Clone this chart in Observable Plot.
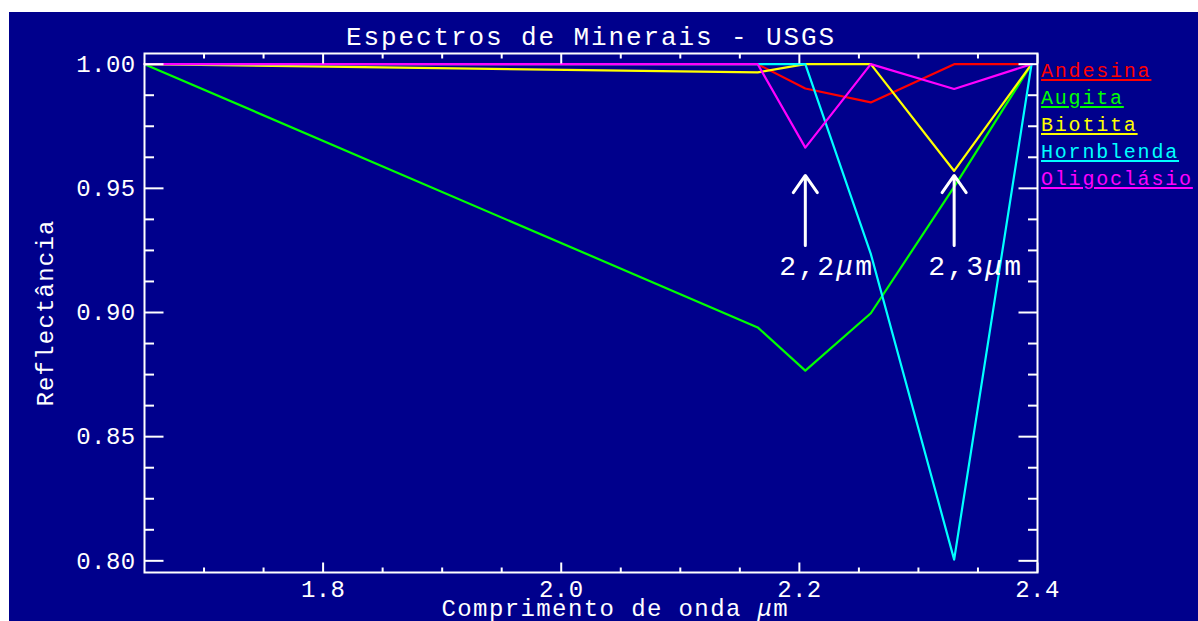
<!DOCTYPE html>
<html>
<head>
<meta charset="utf-8">
<script src="https://cdn.jsdelivr.net/npm/d3@7"></script>
<script src="https://cdn.jsdelivr.net/npm/@observablehq/plot@0.6"></script>
<style>
  html, body { margin: 0; padding: 0; background: #ffffff; }
  #wrap { position: relative; width: 1198px; height: 621px; overflow: hidden; background: #ffffff; }
  #navy { position: absolute; left: 9px; top: 12px; right: 0; bottom: 0; background: #00008c; }
  #chart { position: absolute; left: 0; top: 0; }
  #legend { position: absolute; left: 1041px; top: 0; font-family: "Liberation Mono", monospace; }
  #legend div { position: absolute; left: 0; white-space: nowrap; font-size: 20px; line-height: 1; letter-spacing: 1.8px;
                text-decoration: underline; text-underline-offset: 2px; text-decoration-thickness: 2px; }
</style>
</head>
<body>
<div id="wrap">
  <div id="navy"></div>
  <div id="chart"></div>
  <div id="legend"></div>
</div>
<script>
// ---- data ----
const chartTitle = "Espectros de Minerais - USGS";
const xLabel = "Comprimento de onda μm";
const yLabel = "Reflectância";
const wavelengths = [1.65, 2.165, 2.205, 2.26, 2.33, 2.395];
const seriesNames = ["Andesina", "Augita", "Biotita", "Hornblenda", "Oligoclásio"];
const seriesColors = ["#ff0000", "#00ff00", "#ffff00", "#00ffff", "#ff00ff"];
const andesina    = [1.000, 1.000, 0.9902, 0.9846, 1.000, 1.000];
const augita      = [1.000, 0.8940, 0.8766, 0.8997, 0.9506, 1.000];
const biotita     = [1.000, 0.9967, 1.000, 1.000, 0.9570, 1.000];
const hornblenda  = [1.000, 1.000, 1.000, 0.9236, 0.8005, 1.000];
const oligoclasio = [1.000, 1.000, 0.9664, 1.000, 0.9900, 1.000];
const seriesValues = [andesina, augita, biotita, hornblenda, oligoclasio];

const xDomain = [1.65, 2.4];
const yDomain = [0.7953, 1.0043];
const xMajorTicks = [1.8, 2.0, 2.2, 2.4];
const xMinorTicks = [1.70, 1.75, 1.85, 1.90, 1.95, 2.05, 2.10, 2.15, 2.25, 2.30, 2.35];
const yMajorTicks = [0.80, 0.85, 0.90, 0.95, 1.00];
const yMinorTicks = [0.8125, 0.825, 0.8375, 0.8625, 0.875, 0.8875, 0.9125, 0.925, 0.9375, 0.9625, 0.975, 0.9875];

const annotX = [2.205, 2.33];
const annotLabels = ["2,2μm", "2,3μm"];
const arrowTip = 0.9552;
const arrowBase = 0.927;
const annotLabelY = 0.9153;

// ---- table ----
const table = seriesNames.flatMap((name, s) =>
  wavelengths.map((w, i) => ({series: name, wavelength: w, reflectance: seriesValues[s][i]})));

const tickSymbol = (dx, dy) => ({draw(ctx) { ctx.moveTo(0, 0); ctx.lineTo(dx, dy); }});
const tickStyle = {stroke: "white", strokeWidth: 2, fill: "none", r: 3};

const plot = Plot.plot({
  width: 1198,
  height: 621,
  marginLeft: 144,
  marginRight: 161,
  marginTop: 53,
  marginBottom: 49,
  x: {domain: xDomain},
  y: {domain: yDomain},
  color: {domain: seriesNames, range: seriesColors},
  style: {background: "transparent", color: "white", fontFamily: "'Liberation Mono', monospace", fontSize: "24px", letterSpacing: "0.4px"},
  marks: [
    Plot.line(table, {x: "wavelength", y: "reflectance", z: "series", stroke: "series", strokeWidth: 2.2}),
    Plot.frame({stroke: "white", strokeWidth: 2}),
    // ticks (inward, all four sides)
    Plot.dot(xMajorTicks, {x: d => d, y: () => yDomain[0], symbol: tickSymbol(0, -10), ...tickStyle}),
    Plot.dot(xMajorTicks, {x: d => d, y: () => yDomain[1], symbol: tickSymbol(0, 10), ...tickStyle}),
    Plot.dot(xMinorTicks, {x: d => d, y: () => yDomain[0], symbol: tickSymbol(0, -5), ...tickStyle}),
    Plot.dot(xMinorTicks, {x: d => d, y: () => yDomain[1], symbol: tickSymbol(0, 5), ...tickStyle}),
    Plot.dot(yMajorTicks, {x: () => xDomain[0], y: d => d, symbol: tickSymbol(19, 0), ...tickStyle}),
    Plot.dot(yMajorTicks, {x: () => xDomain[1], y: d => d, symbol: tickSymbol(-19, 0), ...tickStyle}),
    Plot.dot(yMinorTicks, {x: () => xDomain[0], y: d => d, symbol: tickSymbol(9.5, 0), ...tickStyle}),
    Plot.dot(yMinorTicks, {x: () => xDomain[1], y: d => d, symbol: tickSymbol(-9.5, 0), ...tickStyle}),
    Plot.axisX({ticks: xMajorTicks, tickSize: 0, tickPadding: 7, tickFormat: d => d.toFixed(1), label: null, fontSize: 24}),
    Plot.axisY({ticks: yMajorTicks, tickSize: 0, tickPadding: 9, tickFormat: d => d.toFixed(2), label: null, fontSize: 24}),
    // annotations
    Plot.arrow(annotX, {x1: d => d, x2: d => d, y1: () => arrowBase, y2: () => arrowTip,
      stroke: "white", strokeWidth: 3, headLength: 10.5, headAngle: 70}),
    Plot.text(annotX, {x: d => d, y: () => annotLabelY, text: (d, i) => annotLabels[i],
      textAnchor: "start", dx: -26, lineAnchor: "bottom", fontSize: 28, fill: "white"}),
    // titles
    Plot.text([chartTitle], {text: d => d, frameAnchor: "top", dy: -9, lineAnchor: "bottom", fontSize: 26, fill: "white"}),
    Plot.text([xLabel], {text: d => d, frameAnchor: "bottom-left", dx: 297, dy: 43, textAnchor: "start", lineAnchor: "bottom", fontSize: 24, fill: "white"}),
    Plot.text([yLabel], {text: d => d, frameAnchor: "left", dx: -92, rotate: -90, textAnchor: "middle", lineAnchor: "bottom", fontSize: 24, fill: "white"})
  ]
});
document.getElementById("chart").appendChild(plot);

// letter spacing & italic mu
const spacing = new Map([[chartTitle, "1.9px"], [xLabel, "1.4px"], [yLabel, "1.2px"]]);
annotLabels.forEach(l => spacing.set(l, "2.2px"));
d3.select(plot).selectAll("text").each(function() {
  const t = this.textContent;
  if (spacing.has(t)) this.setAttribute("letter-spacing", spacing.get(t));
  if (t.includes("μ") && this.children.length === 0) {
    const parts = t.split("μ");
    while (this.firstChild) this.removeChild(this.firstChild);
    parts.forEach((p, k) => {
      if (k > 0) {
        const ts = document.createElementNS("http://www.w3.org/2000/svg", "tspan");
        ts.setAttribute("font-style", "italic");
        ts.textContent = "μ";
        this.appendChild(ts);
      }
      if (p) this.appendChild(document.createTextNode(p));
    });
  }
});

// legend
const legend = d3.select("#legend");
seriesNames.forEach((name, i) => {
  legend.append("div")
    .style("top", (62.2 + 27 * i) + "px")
    .style("color", seriesColors[i])
    .text(name);
});
</script>
</body>
</html>
